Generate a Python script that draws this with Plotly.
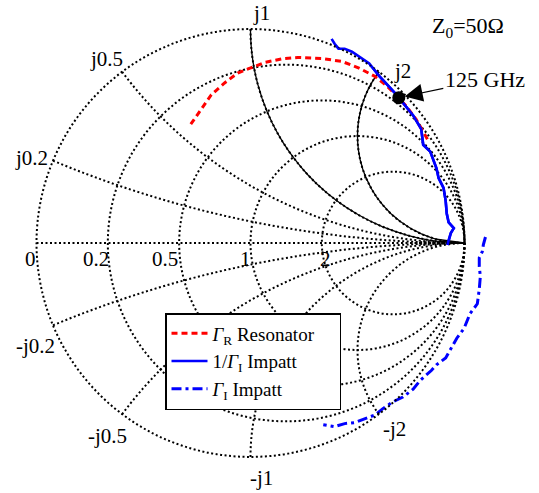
import numpy as np
import plotly.graph_objects as go

# ---- data: reflection coefficients ----
res_re = [-0.279, -0.231, -0.183, -0.121, -0.060, -0.002, 0.069, 0.155, 0.221, 0.331,
          0.426, 0.507, 0.579, 0.631, 0.679, 0.726, 0.774, 0.821, 0.836]
res_im = [0.555, 0.624, 0.693, 0.748, 0.794, 0.817, 0.844, 0.862, 0.867, 0.862,
          0.849, 0.817, 0.780, 0.739, 0.693, 0.642, 0.578, 0.495, 0.468]

inv_re = [0.379, 0.393, 0.412, 0.440, 0.474, 0.507, 0.555, 0.602, 0.640, 0.674, 0.712,
          0.760, 0.798, 0.807, 0.840, 0.869, 0.879, 0.902, 0.912, 0.917, 0.926, 0.950,
          0.936, 0.926, 0.921]
inv_im = [0.954, 0.931, 0.908, 0.908, 0.894, 0.872, 0.839, 0.780, 0.739, 0.702, 0.656,
          0.596, 0.532, 0.459, 0.427, 0.349, 0.303, 0.257, 0.197, 0.138, 0.096, 0.069,
          0.046, 0.014, -0.009]

imp_re = [1.098, 1.088, 1.083, 1.069, 1.069, 1.074, 1.069, 1.060, 1.026, 0.998, 0.964,
          0.940, 0.912, 0.869, 0.845, 0.793, 0.760, 0.712, 0.664, 0.617, 0.583, 0.536,
          0.488, 0.440, 0.393, 0.340]
imp_im = [0.028, -0.009, -0.041, -0.069, -0.110, -0.156, -0.216, -0.284, -0.330, -0.399,
          -0.445, -0.491, -0.537, -0.569, -0.596, -0.642, -0.683, -0.720, -0.743, -0.775,
          -0.803, -0.821, -0.839, -0.844, -0.858, -0.849]

mark_re = [0.693]
mark_im = [0.679]
mark_label = "125 GHz"

real_grid = [0, 0.2, 0.5, 1, 2]
imag_grid = [-2, -1, -0.5, -0.2, 0, 0.2, 0.5, 1, 2]
real_label_vals = [0, 0.2, 0.5, 1, 2]
real_labels = ["0", "0.2", "0.5", "1", "2"]
imag_label_vals = [0.2, 0.5, 1, 2, -0.2, -0.5, -1, -2]
imag_labels = ["j0.2", "j0.5", "j1", "j2", "-j0.2", "-j0.5", "-j1", "-j2"]

# solid reactance arcs x = 1, x = 2 (upper half)
arc_reactances = [1, 2]
arc_resistances = [0, 0.02, 0.05, 0.08, 0.12, 0.16, 0.2, 0.25, 0.3, 0.4, 0.5, 0.6, 0.7, 0.8,
                   0.9, 1, 1.15, 1.3, 1.5, 1.75, 2, 2.4, 2.8, 3.3, 4, 5, 6.5, 8.5, 11, 14, 1e5]

# ---- styling / placement ----
FONT = "Liberation Serif"
W, H = 539, 493
cx, cy, R = 250.5, 243.0, 214.0          # Smith circle centre / radius (px)
dom_x = [(cx - R) / W, (cx + R) / W]
dom_y = [(H - cy - R) / H, (H - cy + R) / H]
xr = [-1.1, 1.3]                          # cartesian overlay, same scale as the circle
yr = [-1.05, 1.05]
cdom_x = [(cx + xr[0] * R) / W, (cx + xr[1] * R) / W]
cdom_y = [(H - cy + yr[0] * R) / H, (H - cy + yr[1] * R) / H]
imag_label_shift = [(-21, 3), (-16, 13), (11, 16), (24, 1),
                    (-17, -21), (-15, -22), (11, -21), (16, -15)]
real_label_shift = [(-6, -16), (-12, -16), (-14, -16), (-5, -16), (4, -16)]


def to_z(gre, gim):
    g = np.array(gre) + 1j * np.array(gim)
    z = (1 + g) / (1 - g)
    return z.real, z.imag


def to_gamma(z):
    g = (np.asarray(z, dtype=complex) - 1) / (np.asarray(z, dtype=complex) + 1)
    return g.real, g.imag


fig = go.Figure()

# data drawn on the cartesian reflection-coefficient plane (not clipped by the circle)
fig.add_trace(go.Scatter(x=inv_re, y=inv_im, mode="lines", xaxis="x", yaxis="y",
                         line=dict(color="blue", width=2.6),
                         name="1/<i>Γ</i><sub>I</sub> Impatt", legendrank=2))
fig.add_trace(go.Scatter(x=imp_re, y=imp_im, mode="lines", xaxis="x", yaxis="y",
                         line=dict(color="blue", width=3, dash="10px,4px,3px,4px"),
                         name="<i>Γ</i><sub>I</sub> Impatt", legendrank=3))

# Smith-chart traces
for xv in arc_reactances:
    fig.add_trace(go.Scattersmith(real=arc_resistances, imag=[xv] * len(arc_resistances),
                                  mode="lines", line=dict(color="black", width=1.3),
                                  showlegend=False, hoverinfo="skip"))

zr, zi = to_z(res_re, res_im)
fig.add_trace(go.Scattersmith(real=zr, imag=zi, mode="lines",
                              line=dict(color="red", width=3, dash="6px,4px"),
                              name="<i>Γ</i><sub>R</sub> Resonator" + "\u00a0" * 4,
                              legendrank=1))
zr, zi = to_z(inv_re, inv_im)
fig.add_trace(go.Scattersmith(real=zr, imag=zi, mode="lines",
                              line=dict(color="blue", width=2.6),
                              showlegend=False, hoverinfo="skip"))
zr, zi = to_z(mark_re, mark_im)
fig.add_trace(go.Scattersmith(real=zr, imag=zi, mode="markers",
                              marker=dict(color="black", size=13),
                              showlegend=False, cliponaxis=False))

grid_common = dict(gridcolor="black", griddash="2px,2.5px", gridwidth=1.5,
                   showticklabels=False, ticks="", showline=False)
fig.update_layout(
    width=W, height=H, margin=dict(l=0, r=0, t=0, b=0),
    paper_bgcolor="white", plot_bgcolor="rgba(0,0,0,0)",
    smith=dict(domain=dict(x=dom_x, y=dom_y), bgcolor="rgba(0,0,0,0)",
               realaxis=dict(tickvals=real_grid, **grid_common),
               imaginaryaxis=dict(tickvals=imag_grid, **grid_common)),
    xaxis=dict(domain=cdom_x, range=xr, visible=False, fixedrange=True),
    yaxis=dict(domain=cdom_y, range=yr, visible=False, fixedrange=True),
    showlegend=True,
    legend=dict(x=165 / W, y=1 - 313 / H, xanchor="left", yanchor="top",
                bgcolor="white", bordercolor="black", borderwidth=1.5,
                font=dict(family=FONT, size=19, color="black"),
                tracegroupgap=0, itemwidth=36),
    font=dict(family=FONT, color="black"),
)

# axis labels anchored at the grid points
gx, gy = to_gamma(1j * np.array(imag_label_vals))
for lab, x0, y0, (sx, sy) in zip(imag_labels, gx, gy, imag_label_shift):
    fig.add_annotation(x=x0, y=y0, xref="x", yref="y", text=lab, showarrow=False,
                       xshift=sx, yshift=sy, xanchor="center", yanchor="middle",
                       font=dict(family=FONT, size=21, color="black"))
gx, gy = to_gamma(np.array(real_label_vals, dtype=float))
for lab, x0, y0, (sx, sy) in zip(real_labels, gx, gy, real_label_shift):
    fig.add_annotation(x=x0, y=y0, xref="x", yref="y", text=lab, showarrow=False,
                       xshift=sx, yshift=sy, xanchor="center", yanchor="middle",
                       font=dict(family=FONT, size=21, color="black"))

fig.add_annotation(x=mark_re[0], y=mark_im[0], xref="x", yref="y",
                   text=mark_label, showarrow=True, arrowhead=2, arrowsize=3, arrowwidth=1.2,
                   arrowcolor="black", ax=86, ay=-18, standoff=6,
                   font=dict(family=FONT, size=22, color="black"))
fig.add_annotation(x=468 / W, y=1 - 27 / H, xref="paper", yref="paper",
                   xanchor="center", yanchor="middle",
                   showarrow=False, text="Z<sub>0</sub>=50Ω",
                   font=dict(family=FONT, size=22, color="black"))

fig.write_html("out.html", config={"displayModeBar": False},
               post_script="document.body.style.margin='0px';")
